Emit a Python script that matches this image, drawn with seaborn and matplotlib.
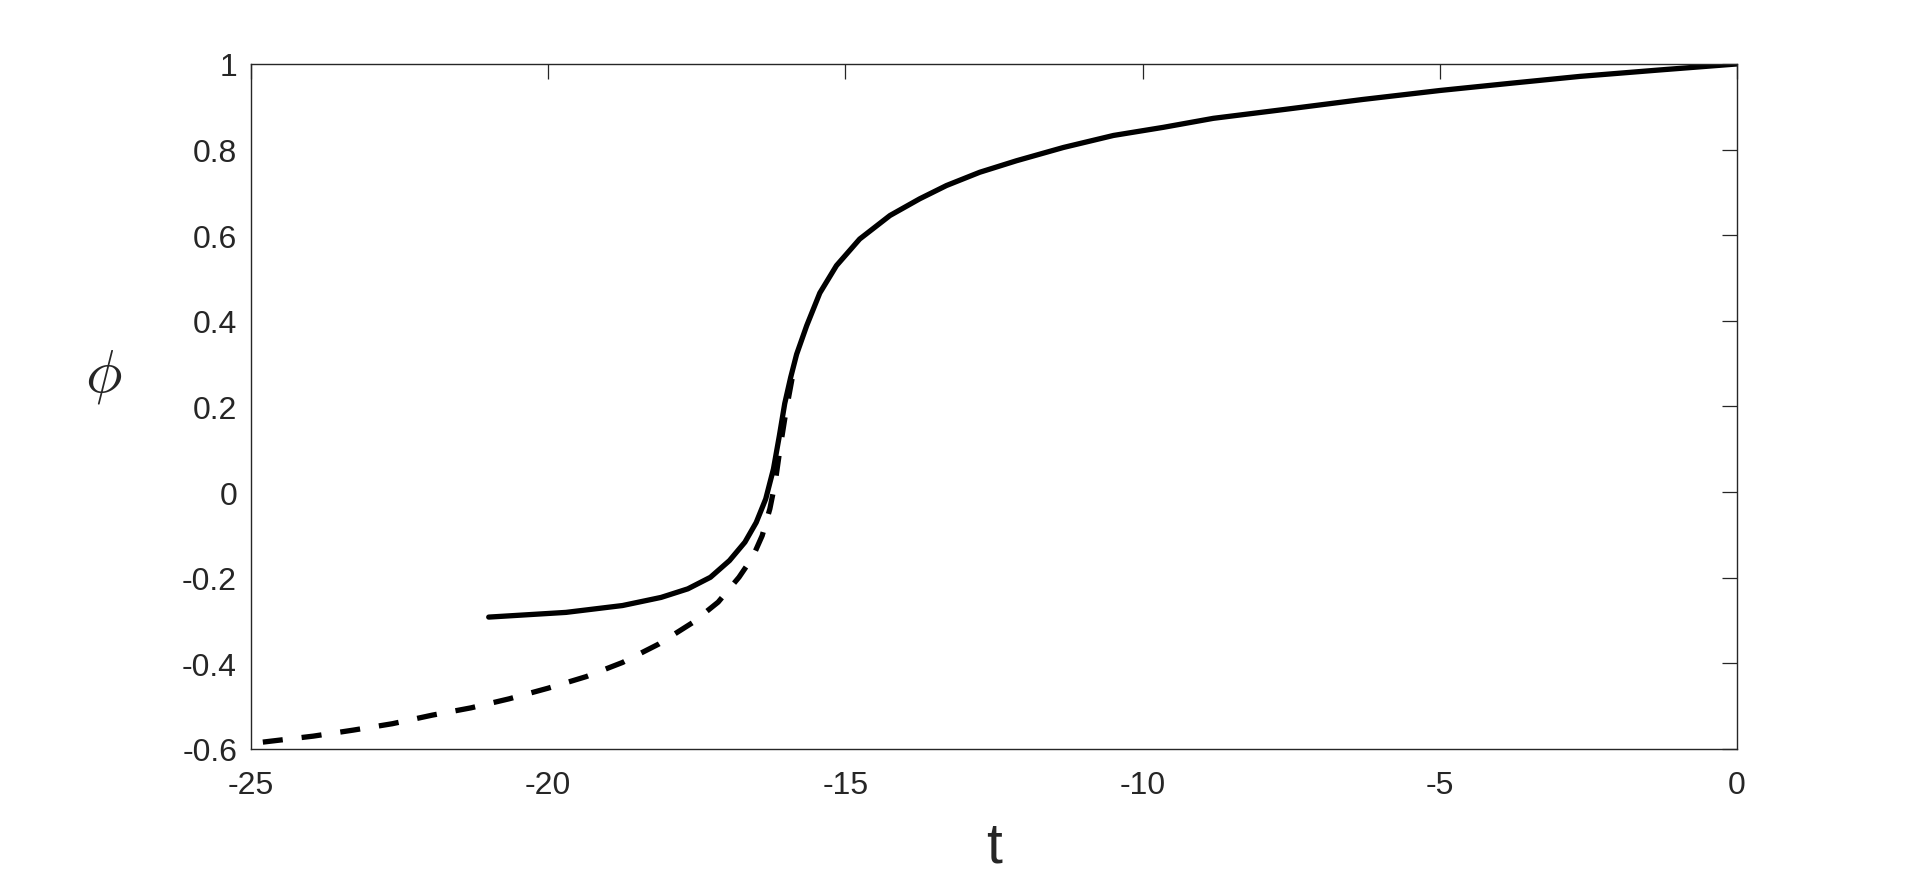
import numpy as np
import pandas as pd
import matplotlib
matplotlib.use('Agg')
import matplotlib.pyplot as plt
import seaborn as sns

# solid curve
t_solid = [-21.0, -19.7, -18.75, -18.1, -17.65, -17.27, -16.95, -16.69, -16.5,
           -16.34, -16.21, -16.11, -16.02, -15.92, -15.82, -15.65, -15.43, -15.15,
           -14.76, -14.25, -13.75, -13.3, -12.74, -12.12, -11.33, -10.49,
           -9.65, -8.81, -7.6, -6.3, -5.0, -3.8, -2.64, -1.3, 0.0]
phi_solid = [-0.292, -0.281, -0.265, -0.246, -0.226, -0.199, -0.160, -0.117, -0.071,
             -0.016, 0.054, 0.132, 0.207, 0.268, 0.322, 0.389, 0.465, 0.529,
             0.591, 0.646, 0.685, 0.716, 0.747, 0.774, 0.805, 0.833,
             0.852, 0.873, 0.894, 0.917, 0.938, 0.955, 0.971, 0.986, 1.0]

# dashed curve
t_dashed = [-24.8, -23.95, -23.28, -22.62, -21.95, -21.3, -20.66, -20.0, -19.36,
            -18.75, -18.14, -17.56, -17.14, -16.79, -16.56, -16.4, -16.27, -16.18,
            -16.1, -16.02, -15.95, -15.85]
phi_dashed = [-0.584, -0.570, -0.556, -0.541, -0.521, -0.504, -0.483, -0.458, -0.431,
              -0.398, -0.355, -0.304, -0.257, -0.199, -0.152, -0.102, -0.039, 0.023,
              0.101, 0.171, 0.225, 0.300]

x_ticks = [-25, -20, -15, -10, -5, 0]
x_ticklabels = ['-25', '-20', '-15', '-10', '-5', '0']
y_ticks = [-0.6, -0.4, -0.2, 0, 0.2, 0.4, 0.6, 0.8, 1]
y_ticklabels = ['-0.6', '-0.4', '-0.2', '0', '0.2', '0.4', '0.6', '0.8', '1']

sns.set_style('white')
plt.rcParams['font.family'] = ['Liberation Sans', 'DejaVu Sans']
plt.rcParams['mathtext.fontset'] = 'cm'
plt.rcParams['axes.unicode_minus'] = False

df_solid = pd.DataFrame({'t': t_solid, 'phi': phi_solid})
df_dashed = pd.DataFrame({'t': t_dashed, 'phi': phi_dashed})

fig = plt.figure(figsize=(19.2, 8.79), dpi=100)
ax = fig.add_axes([0.1307, 0.1468, 0.774, 0.7793])

sns.lineplot(data=df_solid, x='t', y='phi', ax=ax, color='black', lw=3.8)
sns.lineplot(data=df_dashed, x='t', y='phi', ax=ax, color='black', lw=3.8,
             linestyle=(0, (3.8, 3.6)))

ax.set_xlim(-25, 0)
ax.set_ylim(-0.6, 1)
ax.set_xticks(x_ticks)
ax.set_xticklabels(x_ticklabels)
ax.set_yticks(y_ticks)
ax.set_yticklabels(y_ticklabels)

edge = '#262626'
for s in ax.spines.values():
    s.set_visible(True)
    s.set_color(edge)
    s.set_linewidth(1.0)
ax.tick_params(direction='in', length=10.8, width=0.9, color=edge,
               labelcolor=edge, labelsize=23, top=True, right=True)
ax.tick_params(axis='x', pad=15)
ax.tick_params(axis='y', pad=10)

ax.set_xlabel('t', fontsize=41, color=edge)
ax.xaxis.set_label_coords(0.5, -0.143)
ax.xaxis.label.set_va('center')
ax.set_ylabel(r'$\phi$', fontsize=44, rotation=0, color=edge)
ax.yaxis.set_label_coords(-0.099, 0.545)
ax.yaxis.label.set_va('center')
ax.yaxis.label.set_ha('center')

fig.savefig('out.png', dpi=100, facecolor='white')
